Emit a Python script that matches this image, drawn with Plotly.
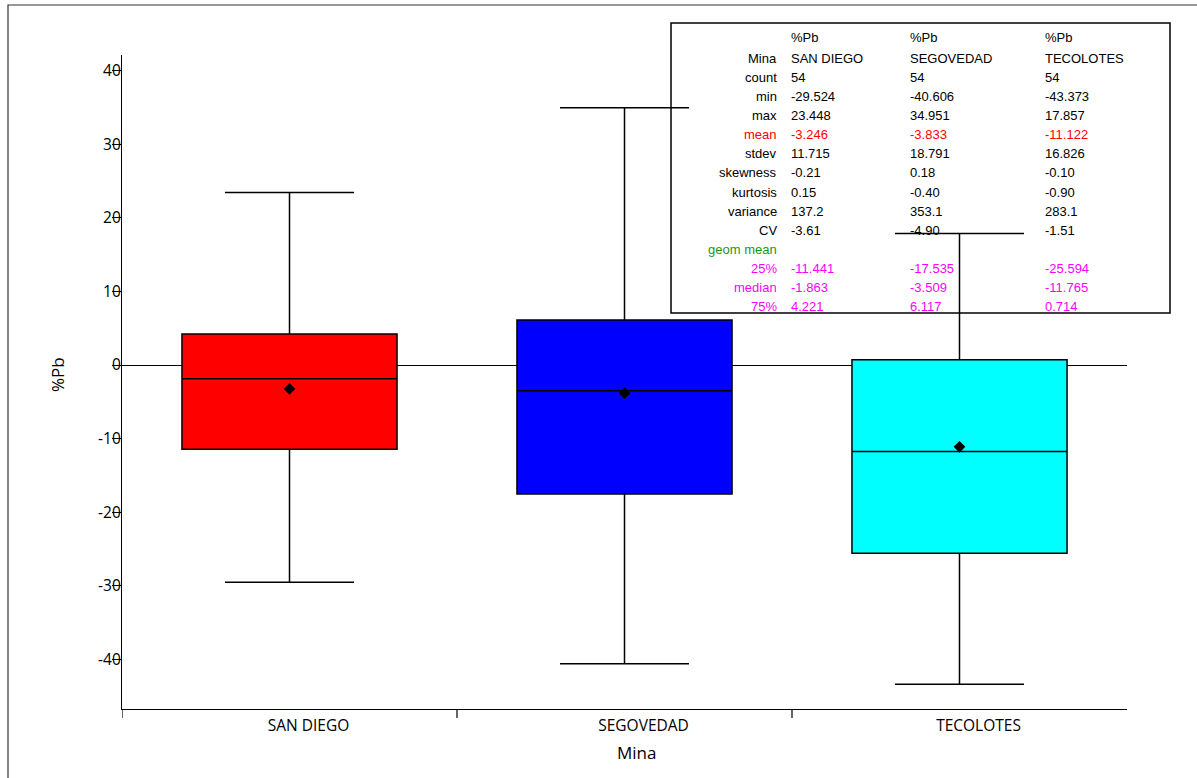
import plotly.graph_objects as go

# ---------------- data ----------------
mines = ["SAN DIEGO", "SEGOVEDAD", "TECOLOTES"]
box_colors = ["#FF0000", "#0000FF", "#00FFFF"]
counts = [54, 54, 54]
mins = [-29.524, -40.606, -43.373]
maxs = [23.448, 34.951, 17.857]
means = [-3.246, -3.833, -11.122]
stdevs = [11.715, 18.791, 16.826]
skewness = [-0.21, 0.18, -0.10]
kurtosis = [0.15, -0.40, -0.90]
variances = [137.2, 353.1, 283.1]
cvs = [-3.61, -4.90, -1.51]
q1s = [-11.441, -17.535, -25.594]
medians = [-1.863, -3.509, -11.765]
q3s = [4.221, 6.117, 0.714]
y_ticks = [-40, -30, -20, -10, 0, 10, 20, 30, 40]
y_ticktext = [str(v) for v in y_ticks]

# ---------------- layout geometry (pixels) ----------------
W, H = 1197, 778
L, R, T, B = 122, 1127, 55, 709
PW, PH = R - L, B - T


def px(x):
    return (x - L) / PW


def py(y):
    return (B - y) / PH


fig = go.Figure()

for i, m in enumerate(mines):
    fig.add_trace(go.Box(
        x=[m], q1=[q1s[i]], median=[medians[i]], q3=[q3s[i]],
        lowerfence=[mins[i]], upperfence=[maxs[i]],
        fillcolor=box_colors[i], line=dict(color="black", width=1.5),
        whiskerwidth=0.6, boxpoints=False, name=m, showlegend=False,
        hoverinfo="skip",
    ))

fig.add_trace(go.Scatter(
    x=mines, y=means, mode="markers",
    marker=dict(symbol="diamond", size=9, color="black"),
    showlegend=False, hoverinfo="skip",
))

shapes = []
# stats table box (below the traces)
shapes.append(dict(type="rect", xref="paper", yref="paper",
                   x0=px(671), x1=px(1170), y0=py(313), y1=py(23),
                   line=dict(color="black", width=1.5), fillcolor="white",
                   layer="below"))
# outer frame
shapes.append(dict(type="rect", xref="paper", yref="paper",
                   x0=px(8), x1=px(1205), y0=py(790), y1=py(5),
                   line=dict(color="#333333", width=1.2), fillcolor="rgba(0,0,0,0)",
                   layer="below"))
# x-axis boundary ticks
for xb in [-0.5, 0.5, 1.5]:
    shapes.append(dict(type="line", xref="x", yref="paper",
                       x0=xb, x1=xb, y0=0, y1=-9 / PH,
                       line=dict(color="black", width=1.2)))

annotations = []
# axis titles
annotations.append(dict(text="%Pb", xref="paper", yref="paper", x=px(57), y=py(375),
                        textangle=-90, showarrow=False, xanchor="center", yanchor="middle",
                        font=dict(family="Open Sans", size=17, color="black")))
annotations.append(dict(text="Mina", xref="paper", yref="paper", x=px(636), y=py(752),
                        showarrow=False, xanchor="center", yanchor="middle",
                        font=dict(family="Open Sans", size=17, color="black")))

# stats table text
tfont = "Liberation Sans"
tsize = 13
label_right = 779
col_left = [789, 908, 1043]


def fmt3(v):
    return f"{v:.3f}"


def fmt2(v):
    return f"{v:.2f}"


def fmt1(v):
    return f"{v:.1f}"


rows = [
    ("", "black", ["%Pb"] * 3),
    ("Mina", "black", mines),
    ("count", "black", [str(c) for c in counts]),
    ("min", "black", [fmt3(v) for v in mins]),
    ("max", "black", [fmt3(v) for v in maxs]),
    ("mean", "#FF0000", [fmt3(v) for v in means]),
    ("stdev", "black", [fmt3(v) for v in stdevs]),
    ("skewness", "black", [fmt2(v) for v in skewness]),
    ("kurtosis", "black", [fmt2(v) for v in kurtosis]),
    ("variance", "black", [fmt1(v) for v in variances]),
    ("CV", "black", [fmt2(v) for v in cvs]),
    ("geom mean", "#159A15", ["", "", ""]),
    ("25%", "#FF00FF", [fmt3(v) for v in q1s]),
    ("median", "#FF00FF", [fmt3(v) for v in medians]),
    ("75%", "#FF00FF", [fmt3(v) for v in q3s]),
]

for r, (lab, col, vals) in enumerate(rows):
    yc = 37.5 if r == 0 else 58.3 + 19.1 * (r - 1)
    if lab:
        annotations.append(dict(text=lab, xref="paper", yref="paper",
                                x=px(label_right), y=py(yc), showarrow=False,
                                xanchor="right", yanchor="middle",
                                font=dict(family=tfont, size=tsize, color=col)))
    vcol = col if r >= 5 and col != "black" else "black"
    for j, v in enumerate(vals):
        if v == "":
            continue
        annotations.append(dict(text=v, xref="paper", yref="paper",
                                x=px(col_left[j]), y=py(yc), showarrow=False,
                                xanchor="left", yanchor="middle",
                                font=dict(family=tfont, size=tsize, color=vcol)))

fig.update_layout(
    width=W, height=H, autosize=False,
    margin=dict(l=L, r=W - R, t=T, b=H - B, pad=0),
    paper_bgcolor="white", plot_bgcolor="white",
    boxmode="overlay", boxgap=0.358, boxgroupgap=0,
    showlegend=False,
    shapes=shapes, annotations=annotations,
    xaxis=dict(type="category", range=[-0.5, 2.5], showline=True, linecolor="black",
               linewidth=1.2, ticks="", showgrid=False, zeroline=False,
               tickfont=dict(family="Open Sans", size=15.5, color="black"),
               ticklabelshift=19, ticklabelstandoff=2),
    yaxis=dict(range=[-(B - 365) / 7.36, (365 - T) / 7.36],
               tickvals=y_ticks, ticktext=y_ticktext,
               ticks="outside", ticklen=9, tickcolor="black", tickwidth=1.2,
               showline=True, linecolor="black", linewidth=1.2, showgrid=False,
               zeroline=True, zerolinecolor="black", zerolinewidth=1.2,
               tickfont=dict(family="Open Sans", size=15.5, color="black"),
               ticklabelstandoff=-12),
)

fig.write_html(
    "out.html",
    config={"displayModeBar": False},
    post_script="document.body.style.margin='0';document.body.style.overflow='hidden';",
)
